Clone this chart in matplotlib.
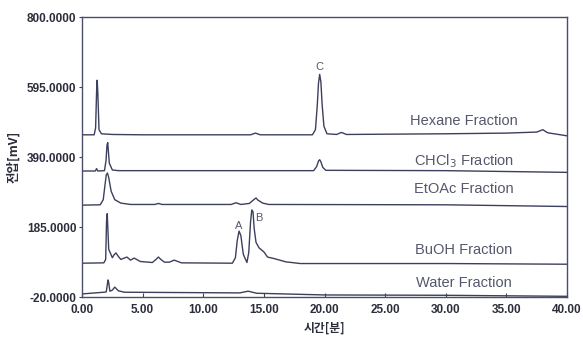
import matplotlib
matplotlib.use("Agg")
import matplotlib.pyplot as plt

# retention time (min) and signal (mV)
hex_t = [0.0, 1.0, 1.12, 1.2, 1.25, 1.3, 1.4, 1.6, 2.5, 5.0, 12.0, 13.9, 14.3, 14.7, 19.0, 19.25, 19.4, 19.5, 19.6, 19.7, 19.8, 19.95, 20.2, 21.0, 21.4, 21.8, 30.0, 35.0, 37.5, 38.0, 38.4, 40.0]
hex_v = [455, 455, 475, 580, 615, 580, 470, 458, 456, 455, 455, 455, 460, 455, 455, 470, 540, 605, 632, 610, 545, 480, 458, 456, 462, 456, 458, 460, 463, 470, 461, 452]

chcl3_t = [0.0, 1.1, 1.2, 1.3, 1.85, 1.98, 2.06, 2.12, 2.25, 2.5, 3.0, 19.1, 19.35, 19.5, 19.6, 19.7, 19.85, 20.1, 30.0, 40.0]
chcl3_v = [349, 349, 356, 349, 350, 380, 425, 432, 372, 352, 350, 350, 362, 378, 382, 376, 360, 351, 350, 345]

etoac_t = [0.0, 1.5, 1.75, 1.9, 2.0, 2.1, 2.2, 2.4, 2.7, 3.2, 4.0, 6.0, 6.3, 6.6, 12.3, 12.7, 13.1, 13.8, 14.2, 14.35, 14.5, 14.9, 15.4, 30.0, 40.0]
etoac_v = [249, 250, 265, 310, 338, 343, 330, 290, 265, 255, 251, 251, 254, 251, 251, 256, 251, 254, 266, 270, 264, 255, 251, 250, 245]

buoh_t = [0.0, 1.8, 1.95, 2.02, 2.08, 2.2, 2.5, 2.65, 2.8, 2.95, 3.2, 3.7, 4.0, 4.3, 4.8, 5.8, 6.1, 6.3, 6.5, 6.8, 7.2, 7.6, 8.2, 12.4, 12.65, 12.8, 12.95, 13.1, 13.3, 13.6, 13.75, 13.9, 14.0, 14.1, 14.2, 14.35, 14.6, 15.0, 15.3, 15.9, 16.8, 18.0, 30.0, 40.0]
buoh_v = [79, 80, 90, 200, 224, 120, 95, 104, 109, 101, 90, 97, 88, 94, 84, 81, 90, 97, 90, 82, 82, 88, 80, 79, 95, 145, 173, 160, 105, 81, 110, 200, 235, 230, 180, 140, 124, 112, 97, 92, 83, 78, 78, 76]

water_t = [0.0, 1.8, 2.0, 2.1, 2.15, 2.2, 2.3, 2.5, 2.7, 3.0, 3.5, 13.0, 13.7, 14.4, 20.0, 30.0, 40.0]
water_v = [-11, -6, -5, 20, 30, 22, -3, 0, 9, -2, -6, -8, -3, -9, -14, -15, -18]

traces = [(hex_t, hex_v), (chcl3_t, chcl3_v), (etoac_t, etoac_v), (buoh_t, buoh_v), (water_t, water_v)]
fraction_names = ["Hexane Fraction", "CHCl$_3$ Fraction", "EtOAc Fraction", "BuOH Fraction", "Water Fraction"]
name_y = [495, 378, 295, 118, 22]

peak_names = ["A", "B", "C"]
peak_t = [12.9, 14.6, 19.6]
peak_y = [188, 212, 655]

y_ticks = [-20, 185, 390, 595, 800]
x_ticks = [0, 5, 10, 15, 20, 25, 30, 35, 40]

line_col = "#3c405c"
text_col = "#55586c"

fig = plt.figure(figsize=(5.83, 3.38), dpi=100)
ax = fig.add_axes([0.1407, 0.1213, 0.8319, 0.8284])

for t, v in traces:
    ax.plot(t, v, color=line_col, lw=1.0)

for name, yy in zip(fraction_names, name_y):
    ax.text(31.5, yy, name, ha="center", va="center", fontsize=10.5,
            color=text_col, family="Liberation Sans")

for name, tt, yy in zip(peak_names, peak_t, peak_y):
    ax.text(tt, yy, name, ha="center", va="center", fontsize=8,
            color=text_col, family="Liberation Sans")

ax.set_xlim(0, 40)
ax.set_ylim(-20, 800)
ax.set_xticks(x_ticks)
ax.set_xticklabels(["%.2f" % x for x in x_ticks])
ax.set_yticks(y_ticks)
ax.set_yticklabels(["%.4f" % y for y in y_ticks])

for lab in ax.get_xticklabels() + ax.get_yticklabels():
    lab.set_family("Liberation Sans")
    lab.set_fontweight("bold")
    lab.set_fontsize(8.5)
    lab.set_color("#2c2e3c")

ax.tick_params(axis="x", direction="in", length=3, color=line_col, pad=5)
ax.tick_params(axis="y", direction="out", length=2, color=line_col, pad=2)
for s in ax.spines.values():
    s.set_color("#4a4e6a")
    s.set_linewidth(1.0)

ax.set_xlabel("시간[분]", family=["Noto Sans CJK KR", "DejaVu Sans"], fontsize=8.5,
              fontweight="bold", color="#2c2e3c", labelpad=4)
ax.set_ylabel("전압[mV]", family=["Noto Sans CJK KR", "DejaVu Sans"], fontsize=9,
              fontweight="bold", color="#2c2e3c", labelpad=2)
ax.yaxis.set_label_coords(-0.128, 0.5)

fig.savefig("out.png", dpi=100)
